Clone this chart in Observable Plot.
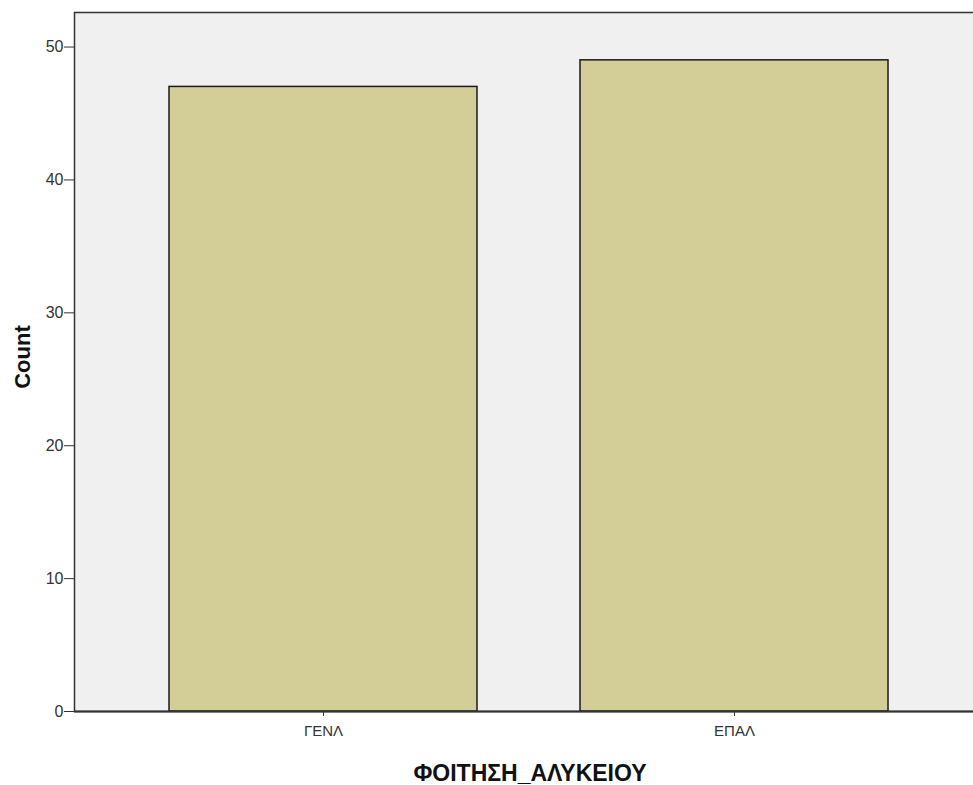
<!DOCTYPE html>
<html>
<head>
<meta charset="utf-8">
<script src="https://cdn.jsdelivr.net/npm/d3@7"></script>
<script src="https://cdn.jsdelivr.net/npm/@observablehq/plot@0.6"></script>
<style>
  html, body { margin: 0; padding: 0; background: #ffffff; }
  #chart svg { display: block; }
</style>
</head>
<body>
<div id="chart"></div>
<script>
const categories = ["ΓΕΝΛ", "ΕΠΑΛ"];
const counts = [47, 49];
const yTicks = [0, 10, 20, 30, 40, 50];
const xTitle = "ΦΟΙΤΗΣΗ_ΑΛΥΚΕΙΟΥ";
const yTitle = "Count";

const data = categories.map((c, i) => ({category: c, count: counts[i]}));
const yMax = 52.6;

const chart = Plot.plot({
  width: 973,
  height: 785,
  marginLeft: 74,
  marginRight: -2,
  marginTop: 12,
  marginBottom: 74,
  style: {fontFamily: "Liberation Sans, Arial, sans-serif", background: "#ffffff"},
  x: {domain: categories, paddingInner: 0.25, paddingOuter: 0.22, align: 0.52},
  y: {domain: [0, yMax], nice: false},
  marks: [
    Plot.frame({fill: "#f0f0f0", stroke: "#333", strokeWidth: 1.5}),
    Plot.barY(data, {x: "category", y: "count", fill: "#d3ce97", stroke: "#1a1a1a", strokeWidth: 1.5}),
    Plot.ruleY([0], {stroke: "#333", strokeWidth: 2}),
    Plot.axisY({ticks: yTicks, tickSize: 10, tickPadding: 1, fontSize: 16, color: "#333", label: null}),
    Plot.axisX({tickSize: 5, tickPadding: 9, fontSize: 15, color: "#333", label: null}),
    Plot.text([yTitle], {frameAnchor: "left", dx: -52, dy: -5, rotate: -90, textAnchor: "middle", lineAnchor: "middle", text: d => d, fontSize: 22, fontWeight: "bold", fill: "#111"}),
    Plot.text([xTitle], {frameAnchor: "bottom", dx: 5, dy: 62, textAnchor: "middle", lineAnchor: "middle", text: d => d, fontSize: 23, fontWeight: "bold", fill: "#111"})
  ]
});
document.getElementById("chart").appendChild(chart);
</script>
</body>
</html>
